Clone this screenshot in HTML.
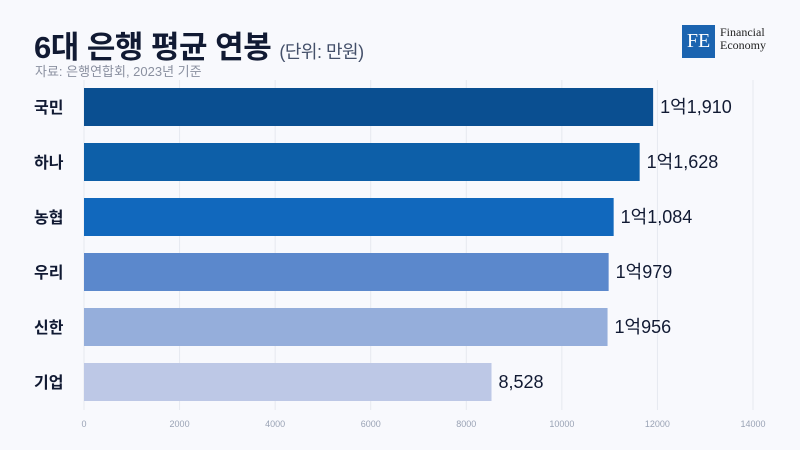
<!DOCTYPE html>
<html><head><meta charset="utf-8"><style>
body{margin:0;width:800px;height:450px;background:#f8f9fd;overflow:hidden;font-family:"Liberation Sans","Noto Sans CJK KR",sans-serif;position:relative}
.t{position:absolute;white-space:nowrap}
</style></head><body>
<div class="t" style="left:34px;top:22px;font-size:31px;font-weight:bold;color:#111a33;letter-spacing:-0.5px">6대 은행 평균 연봉 <span style="font-size:18px;font-weight:normal;color:#44506a">(단위: 만원)</span></div>
<div class="t" style="left:35px;top:61px;font-size:13px;color:#8a90a0">자료: 은행연합회, 2023년 기준</div>
<div class="t" style="left:682px;top:25px;width:33px;height:33px;background:#1b64b0;color:#fff;font-family:'Liberation Serif',serif;font-size:20px;line-height:33px;text-align:center">FE</div>
<div class="t" style="left:720px;top:26px;font-family:'Liberation Serif',serif;font-size:12px;line-height:13px;color:#222">Financial<br>Economy</div>
<svg id="c" width="800" height="450" style="position:absolute;left:0;top:0"></svg>
<script>
const categories=["국민","하나","농협","우리","신한","기업"];
const values=[11910,11628,11084,10979,10956,8528];
const valueLabels=["1억1,910","1억1,628","1억1,084","1억979","1억956","8,528"];
const colors=["#0a4f91","#0d5fa8","#1168bd","#5b88cc","#95aedb","#bdc8e6"];
const ticks=[0,2000,4000,6000,8000,10000,12000,14000];
const svg=document.getElementById('c');
const NS='http://www.w3.org/2000/svg';
const x=v=>84+v*(753-84)/14000;
const y=i=>88+i*55;
function mk(t,a){const e=document.createElementNS(NS,t);for(const k in a)e.setAttribute(k,a[k]);svg.appendChild(e);return e;}
ticks.forEach(t=>{
 const g=mk('line',{x1:x(t),x2:x(t),y1:80,y2:410,stroke:'#e6e9f0','stroke-width':1});
 
 
 const l=mk('text',{x:x(t),y:427,'font-size':9,fill:'#9aa3b5','text-anchor':'middle','font-family':'Liberation Sans'});
 l.textContent=t;
 
 
});
categories.forEach((c,i)=>{
 const r=mk('rect',{x:x(0),y:y(i),width:x(values[i])-x(0),height:38,fill:colors[i]});
 
 
 const cl=mk('text',{x:34,y:y(i)+25,'font-size':16,'font-weight':'bold',fill:'#111a33','font-family':'Liberation Sans, Noto Sans CJK KR, sans-serif'});
 cl.textContent=c;
 
 
 const vl=mk('text',{x:x(values[i])+7,y:y(i)+25,'font-size':18,fill:'#111a33','font-family':'Liberation Sans, Noto Sans CJK KR, sans-serif'});
 vl.textContent=valueLabels[i];
 
 
});
</script>
</body></html>
